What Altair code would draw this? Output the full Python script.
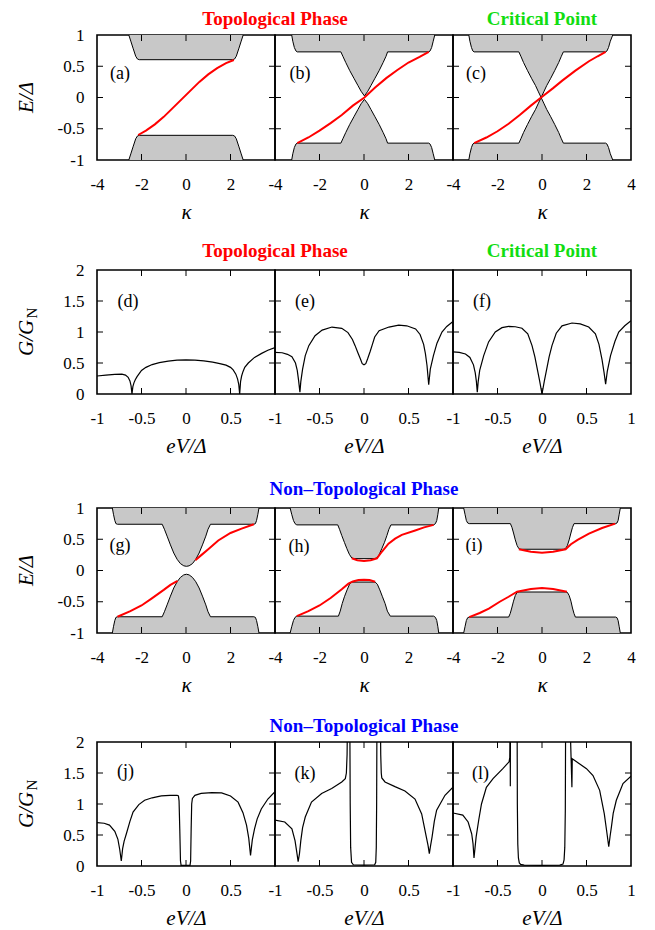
import altair as alt
import pandas as pd

# ---------------- band-structure panels: kappa vs E/Delta ----------------
# (a)
A_UP_K = [-2.57, -2.47, -2.38, -2.26, -2.18, -2.10, 2.10, 2.18, 2.26, 2.38, 2.47, 2.57]
A_UP_E = [1.0, 0.89, 0.79, 0.66, 0.615, 0.605, 0.605, 0.615, 0.66, 0.79, 0.89, 1.0]
A_LO_K = [-2.57, -2.47, -2.38, -2.26, -2.18, -2.10, 2.10, 2.18, 2.26, 2.38, 2.47, 2.57]
A_LO_E = [-1.0, -0.89, -0.79, -0.66, -0.615, -0.605, -0.605, -0.615, -0.66, -0.79, -0.89, -1.0]
A_RED_K = [-2.15, -1.8, -1.4, -1.0, -0.6, -0.2, 0.2, 0.6, 1.0, 1.4, 1.8, 2.15]
A_RED_E = [-0.60, -0.53, -0.43, -0.31, -0.17, -0.03, 0.11, 0.25, 0.37, 0.47, 0.55, 0.60]

# (b)
B_UP_K = [-3.25, -3.20, -3.13, -3.06, -3.00, -1.04, -0.95, -0.82, -0.64, -0.44, -0.27, -0.13, 0.02,
          0.17, 0.31, 0.48, 0.68, 0.86, 0.99, 1.06, 2.91, 2.97, 3.04, 3.11, 3.18]
B_UP_E = [1.0, 0.9, 0.8, 0.745, 0.73, 0.73, 0.66, 0.56, 0.43, 0.30, 0.19, 0.10, 0.025,
          0.10, 0.19, 0.30, 0.43, 0.56, 0.66, 0.73, 0.73, 0.745, 0.8, 0.9, 1.0]
B_LO_K = [-3.25, -3.20, -3.13, -3.06, -3.00, -1.04, -0.95, -0.82, -0.64, -0.44, -0.27, -0.13, 0.02,
          0.17, 0.31, 0.48, 0.68, 0.86, 0.99, 1.06, 2.91, 2.97, 3.04, 3.11, 3.18]
B_LO_E = [-1.0, -0.9, -0.8, -0.745, -0.73, -0.73, -0.66, -0.56, -0.43, -0.30, -0.19, -0.10, -0.03,
          -0.10, -0.19, -0.30, -0.43, -0.56, -0.66, -0.73, -0.73, -0.745, -0.8, -0.9, -1.0]
B_RED_K = [-3.0, -2.5, -2.0, -1.5, -1.0, -0.5, 0.02, 0.5, 1.0, 1.5, 2.0, 2.5, 2.91]
B_RED_E = [-0.73, -0.64, -0.53, -0.41, -0.28, -0.13, 0.0, 0.16, 0.31, 0.44, 0.56, 0.65, 0.73]

# (c)
C_UP_K = [-3.29, -3.24, -3.17, -3.11, -3.05, -1.04, -0.95, -0.83, -0.65, -0.46, -0.29, -0.16, -0.04,
          0.08, 0.21, 0.38, 0.57, 0.75, 0.87, 0.96, 2.86, 2.92, 2.99, 3.07, 3.18]
C_UP_E = [1.0, 0.9, 0.8, 0.745, 0.73, 0.73, 0.66, 0.56, 0.43, 0.30, 0.19, 0.09, 0.0,
          0.09, 0.19, 0.30, 0.43, 0.56, 0.66, 0.73, 0.73, 0.745, 0.8, 0.9, 1.0]
C_LO_K = [-3.29, -3.24, -3.17, -3.11, -3.05, -1.04, -0.95, -0.83, -0.65, -0.46, -0.29, -0.16, -0.04,
          0.08, 0.21, 0.38, 0.57, 0.75, 0.87, 0.96, 2.86, 2.92, 2.99, 3.07, 3.18]
C_LO_E = [-1.0, -0.9, -0.8, -0.745, -0.73, -0.73, -0.66, -0.56, -0.43, -0.30, -0.19, -0.09, 0.0,
          -0.09, -0.19, -0.30, -0.43, -0.56, -0.66, -0.73, -0.73, -0.745, -0.8, -0.9, -1.0]
C_RED_K = [-3.05, -2.5, -2.0, -1.5, -1.0, -0.5, -0.04, 0.5, 0.91, 1.5, 2.11, 2.5, 2.86]
C_RED_E = [-0.73, -0.64, -0.54, -0.42, -0.28, -0.13, 0.0, 0.15, 0.27, 0.43, 0.58, 0.66, 0.73]

# (g)
G_UP_K = [-3.31, -3.26, -3.20, -3.15, -3.08, -1.07, -0.97, -0.85, -0.70, -0.55, -0.40, -0.25, -0.10, 0.02,
          0.14, 0.29, 0.44, 0.59, 0.74, 0.89, 0.99, 1.10, 3.05, 3.12, 3.17, 3.23, 3.28]
G_UP_E = [1.0, 0.9, 0.8, 0.75, 0.74, 0.74, 0.66, 0.55, 0.41, 0.28, 0.18, 0.11, 0.075, 0.067,
          0.075, 0.11, 0.18, 0.28, 0.41, 0.55, 0.66, 0.74, 0.74, 0.75, 0.8, 0.9, 1.0]
G_LO_K = [-3.31, -3.26, -3.20, -3.15, -3.08, -1.07, -0.97, -0.85, -0.70, -0.55, -0.40, -0.25, -0.10, 0.02,
          0.14, 0.29, 0.44, 0.59, 0.74, 0.89, 0.99, 1.10, 3.05, 3.12, 3.17, 3.23, 3.28]
G_LO_E = [-1.0, -0.9, -0.8, -0.75, -0.74, -0.74, -0.66, -0.55, -0.41, -0.28, -0.18, -0.11, -0.07, -0.06,
          -0.07, -0.11, -0.18, -0.28, -0.41, -0.55, -0.66, -0.74, -0.74, -0.75, -0.8, -0.9, -1.0]
G_RED1_K = [-3.08, -2.5, -2.0, -1.55, -1.0, -0.7, -0.38]
G_RED1_E = [-0.74, -0.65, -0.56, -0.45, -0.31, -0.23, -0.165]
G_RED2_K = [0.42, 0.7, 1.0, 1.45, 2.0, 2.5, 3.05]
G_RED2_E = [0.165, 0.25, 0.34, 0.48, 0.60, 0.67, 0.74]

# (h)
H_UP_K = [-3.32, -3.25, -3.17, -3.10, -3.02, -1.18, -1.10, -1.00, -0.88, -0.77, -0.66, -0.55, -0.45,
          0.48, 0.58, 0.69, 0.80, 0.92, 1.03, 1.12, 1.21, 3.13, 3.21, 3.27, 3.32, 3.36]
H_UP_E = [1.0, 0.9, 0.8, 0.75, 0.73, 0.73, 0.66, 0.56, 0.45, 0.35, 0.26, 0.20, 0.19,
          0.19, 0.20, 0.26, 0.35, 0.45, 0.56, 0.66, 0.73, 0.73, 0.75, 0.8, 0.9, 1.0]
H_LO_K = [-3.32, -3.25, -3.17, -3.10, -3.02, -1.15, -1.07, -0.98, -0.88, -0.76, -0.65, -0.55,
          0.50, 0.60, 0.71, 0.83, 0.95, 1.05, 1.18, 3.13, 3.21, 3.27, 3.32, 3.36]
H_LO_E = [-1.0, -0.9, -0.8, -0.75, -0.73, -0.73, -0.65, -0.53, -0.42, -0.31, -0.22, -0.185,
          -0.185, -0.22, -0.31, -0.42, -0.53, -0.65, -0.73, -0.73, -0.75, -0.8, -0.9, -1.0]
H_RED1_K = [-3.02, -2.5, -2.0, -1.5, -1.0, -0.7, -0.5, -0.25, 0.0, 0.25, 0.5]
H_RED1_E = [-0.73, -0.65, -0.56, -0.44, -0.30, -0.21, -0.175, -0.152, -0.147, -0.152, -0.18]
H_RED2_K = [-0.55, -0.3, 0.0, 0.3, 0.58, 0.8, 1.1, 1.4, 1.7, 2.3, 2.7, 3.13]
H_RED2_E = [0.195, 0.165, 0.152, 0.165, 0.195, 0.30, 0.43, 0.51, 0.57, 0.64, 0.69, 0.73]

# (i)
I_UP_K = [-3.52, -3.46, -3.40, -3.34, -3.27, -1.42, -1.35, -1.28, -1.20, -1.12, -1.04, -0.95,
          0.97, 1.06, 1.14, 1.22, 1.30, 1.37, 1.44, 3.31, 3.37, 3.42, 3.47, 3.52]
I_UP_E = [1.0, 0.9, 0.8, 0.76, 0.75, 0.75, 0.69, 0.60, 0.49, 0.40, 0.35, 0.34,
          0.34, 0.35, 0.40, 0.49, 0.60, 0.69, 0.75, 0.75, 0.76, 0.8, 0.9, 1.0]
I_LO_K = [-3.52, -3.46, -3.40, -3.34, -3.27, -1.50, -1.43, -1.36, -1.28, -1.20, -1.12, -1.03,
          1.05, 1.14, 1.22, 1.30, 1.37, 1.44, 1.50, 3.31, 3.37, 3.42, 3.47, 3.52]
I_LO_E = [-1.0, -0.9, -0.8, -0.755, -0.745, -0.745, -0.69, -0.60, -0.49, -0.40, -0.35, -0.344,
          -0.344, -0.35, -0.40, -0.49, -0.60, -0.69, -0.745, -0.745, -0.755, -0.8, -0.9, -1.0]
I_RED1_K = [-3.27, -2.8, -2.39, -1.9, -1.5, -1.12, -0.5, 0.0, 0.5, 1.12]
I_RED1_E = [-0.745, -0.68, -0.61, -0.50, -0.42, -0.34, -0.295, -0.28, -0.295, -0.34]
I_RED2_K = [-1.04, -0.5, 0.0, 0.5, 1.06, 1.3, 1.6, 2.11, 2.7, 3.29]
I_RED2_E = [0.34, 0.30, 0.285, 0.30, 0.34, 0.42, 0.49, 0.59, 0.68, 0.75]

# ---------------- conductance panels: eV/Delta vs G/G_N ----------------
D_V = [-1.0, -0.9, -0.8, -0.72, -0.68, -0.65, -0.63, -0.617, -0.607, -0.597, -0.585, -0.57, -0.55, -0.5,
       -0.45, -0.38, -0.3, -0.2, -0.1, 0.0, 0.1, 0.2, 0.3, 0.38, 0.45, 0.5, 0.53, 0.56, 0.58, 0.593,
       0.603, 0.613, 0.625, 0.64, 0.66, 0.7, 0.77, 0.85, 0.92, 1.0]
D_G = [0.29, 0.305, 0.318, 0.32, 0.305, 0.27, 0.21, 0.13, 0.0, 0.12, 0.18, 0.23, 0.28, 0.38,
       0.43, 0.475, 0.505, 0.53, 0.545, 0.55, 0.545, 0.535, 0.515, 0.49, 0.465, 0.43, 0.39, 0.32, 0.24, 0.15,
       0.0, 0.2, 0.29, 0.36, 0.43, 0.5, 0.59, 0.655, 0.705, 0.75]

E_V = [-1.0, -0.92, -0.86, -0.81, -0.77, -0.75, -0.735, -0.72, -0.71, -0.69, -0.66, -0.62, -0.55, -0.47,
       -0.36, -0.25, -0.18, -0.13, -0.1, -0.07, -0.04, -0.02, 0.0, 0.02, 0.04, 0.07, 0.09, 0.12, 0.17, 0.28,
       0.39, 0.48, 0.58, 0.63, 0.67, 0.69, 0.708, 0.727, 0.745, 0.78, 0.82, 0.876, 0.93, 1.0]
E_G = [0.67, 0.665, 0.64, 0.6, 0.5, 0.38, 0.22, 0.03, 0.2, 0.4, 0.62, 0.78, 0.94, 1.03,
       1.08, 1.06, 0.99, 0.88, 0.78, 0.67, 0.565, 0.49, 0.47, 0.49, 0.565, 0.69, 0.78, 0.92, 1.02, 1.08,
       1.11, 1.1, 1.05, 0.96, 0.8, 0.65, 0.46, 0.15, 0.4, 0.62, 0.82, 1.0, 1.09, 1.17]

F_V = [-1.0, -0.93, -0.86, -0.81, -0.77, -0.75, -0.737, -0.727, -0.717, -0.7, -0.655, -0.6, -0.525, -0.45,
       -0.374, -0.3, -0.225, -0.16, -0.112, -0.08, -0.05, -0.025, 0.0, 0.025, 0.05, 0.08, 0.112, 0.16, 0.225,
       0.337, 0.43, 0.525, 0.6, 0.64, 0.675, 0.697, 0.715, 0.733, 0.77, 0.82, 0.862, 0.93, 1.0]
F_G = [0.68, 0.67, 0.645, 0.59, 0.47, 0.34, 0.2, 0.03, 0.2, 0.38, 0.62, 0.84, 1.0, 1.07,
       1.09, 1.085, 1.06, 0.97, 0.78, 0.6, 0.38, 0.2, 0.0, 0.2, 0.38, 0.6, 0.78, 0.98, 1.1,
       1.145, 1.13, 1.08, 0.97, 0.8, 0.55, 0.35, 0.16, 0.36, 0.62, 0.85, 1.0, 1.1, 1.18]

J_V = [-1.0, -0.92, -0.86, -0.8, -0.765, -0.745, -0.727, -0.712, -0.695, -0.67, -0.63, -0.595, -0.53, -0.465,
       -0.38, -0.278, -0.18, -0.1, -0.085, -0.078, -0.07, -0.062, -0.055, 0.0, 0.045, 0.052, 0.058, 0.064,
       0.072, 0.1, 0.17, 0.29, 0.4, 0.5, 0.585, 0.64, 0.68, 0.705, 0.725, 0.745, 0.77, 0.8, 0.846, 0.92, 1.0]
J_G = [0.70, 0.69, 0.66, 0.56, 0.43, 0.27, 0.08, 0.28, 0.4, 0.52, 0.72, 0.87, 0.99, 1.06,
       1.1, 1.13, 1.14, 1.14, 1.13, 1.05, 0.6, 0.08, 0.01, 0.01, 0.01, 0.08, 0.6, 1.0,
       1.09, 1.14, 1.17, 1.185, 1.18, 1.13, 1.03, 0.86, 0.66, 0.45, 0.17, 0.42, 0.6, 0.76, 0.92, 1.08, 1.2]

K_V = [-1.0, -0.89, -0.81, -0.775, -0.755, -0.74, -0.725, -0.71, -0.69, -0.66, -0.59, -0.476, -0.363, -0.25,
       -0.21, -0.198, -0.19, -0.184, -0.16, -0.155, -0.15, -0.14, -0.12, 0.0, 0.12, 0.132, 0.138, 0.142,
       0.146, 0.183, 0.188, 0.194, 0.2, 0.236, 0.348, 0.46, 0.573, 0.648, 0.70, 0.72, 0.734, 0.748, 0.765,
       0.79, 0.816, 0.91, 1.0]
K_G = [0.74, 0.71, 0.6, 0.41, 0.22, 0.07, 0.2, 0.41, 0.62, 0.79, 1.03, 1.17, 1.25, 1.355,
       1.41, 1.5, 1.8, 2.6, 2.6, 1.0, 0.3, 0.06, 0.02, 0.015, 0.02, 0.06, 0.3, 1.0,
       2.6, 2.6, 1.8, 1.5, 1.42, 1.355, 1.28, 1.21, 1.08, 0.84, 0.47, 0.33, 0.2, 0.33, 0.47,
       0.72, 0.9, 1.14, 1.27]

L_V = [-1.0, -0.89, -0.83, -0.79, -0.775, -0.764, -0.752, -0.74, -0.71, -0.68, -0.625, -0.55, -0.44, -0.37,
       -0.362, -0.358, -0.356, -0.354, -0.28, -0.277, -0.272, -0.265, -0.255, -0.24, -0.2, 0.0, 0.2, 0.236,
       0.248, 0.256, 0.262, 0.266, 0.31, 0.336, 0.34, 0.348, 0.42, 0.5, 0.573, 0.648, 0.7, 0.725, 0.75,
       0.765, 0.78, 0.8, 0.835, 0.91, 1.0]
L_G = [0.855, 0.82, 0.71, 0.52, 0.36, 0.13, 0.3, 0.47, 0.75, 1.0, 1.27, 1.41, 1.57, 1.68,
       1.75, 2.6, 1.285, 2.6, 2.6, 1.0, 0.35, 0.13, 0.05, 0.025, 0.015, 0.01, 0.015, 0.03,
       0.1, 0.3, 0.9, 2.6, 2.6, 1.27, 1.73, 1.72, 1.65, 1.57, 1.46, 1.22, 0.84, 0.58, 0.31,
       0.48, 0.63, 0.85, 1.06, 1.33, 1.45]

# ---------------- axes / ticks / texts ----------------
K_LABELS_AB = [-4, -2, 0, 2]
K_LABELS_C = [-4, -2, 0, 2, 4]
K_TICKS = [-2, 0, 2]
E_LABELS = [-1, -0.5, 0, 0.5, 1]
E_TICKS = [-0.5, 0, 0.5]
V_LABELS_AB = [-1, -0.5, 0, 0.5]
V_LABELS_C = [-1, -0.5, 0, 0.5, 1]
V_TICKS = [-0.5, 0, 0.5]
G_LABELS = [0, 0.5, 1, 1.5, 2]
G_TICKS = [0.5, 1, 1.5]

TITLE_TOPO = "Topological Phase"
TITLE_CRIT = "Critical Point"
TITLE_NONTOPO = "Non\u2013Topological Phase"

FONT = "'Liberation Serif', 'DejaVu Serif', serif"
W = 178
GRAY = "#c8c8c8"
RED = "#ff0000"
GREEN = "#11dd11"
BLUE = "#0000ff"
TITLE_SIZE = 19


def one(text):
    return pd.DataFrame({"t": [text]})


def text_layer(text, x, y, size, color="black", weight="normal", style="normal",
               angle=0, align="center", baseline="middle"):
    return alt.Chart(one(text)).mark_text(
        font=FONT, fontSize=size, color=color, fontWeight=weight, fontStyle=style,
        angle=angle, align=align, baseline=baseline
    ).encode(text="t:N", x=alt.value(x), y=alt.value(y))


def spacer(top, bottom):
    return alt.Chart(one("")).mark_rule(opacity=0).encode(
        x=alt.value(0), y=alt.value(top), y2=alt.value(bottom))


def panel(H, xdom, ydom, xvals, xtitle, tpad, yvals, show_y, xticks, yticks,
          areas, edges, curves, label, lpos, extras):
    xs = alt.Scale(domain=xdom, nice=False, zero=False)
    ys = alt.Scale(domain=ydom, nice=False, zero=False)
    xa = alt.Axis(values=xvals, labelExpr="'' + datum.value", title=xtitle, domain=False,
                  ticks=False, tickSize=0, grid=False, labelFont=FONT, labelFontSize=17,
                  labelColor="black", labelPadding=16, labelFlush=False, labelOverlap=False,
                  titleFont=FONT, titleFontSize=21, titleFontStyle="italic",
                  titleFontWeight="normal", titleColor="black", titlePadding=tpad)
    if show_y:
        ya = alt.Axis(values=yvals, labelExpr="'' + datum.value", title=None, domain=False,
                      ticks=False, tickSize=0, grid=False, labelFont=FONT, labelFontSize=17,
                      labelColor="black", labelPadding=13, labelFlush=False, labelOverlap=False)
    else:
        ya = None

    def X(f):
        return alt.X(f, type="quantitative", scale=xs, axis=xa)

    def Y(f):
        return alt.Y(f, type="quantitative", scale=ys, axis=ya)

    layers = []
    for k, e, b in areas:
        df = pd.DataFrame({"x": k, "y": e, "b": [b] * len(k)})
        layers.append(alt.Chart(df).mark_area(color=GRAY, opacity=1).encode(
            x=X("x"), y=Y("y"), y2="b"))
    for k, e in edges:
        df = pd.DataFrame({"x": k, "y": e})
        layers.append(alt.Chart(df).mark_line(color="black", strokeWidth=1).encode(
            x=X("x"), y=Y("y")))
    for k, e, color, sw in curves:
        df = pd.DataFrame({"x": k, "y": e})
        layers.append(alt.Chart(df).mark_line(color=color, strokeWidth=sw, clip=True).encode(
            x=X("x"), y=Y("y")))
    tx = pd.DataFrame({"v": xticks})
    ty = pd.DataFrame({"v": yticks})
    TL = 6
    layers.append(alt.Chart(tx).mark_rule(color="black", strokeWidth=1).encode(
        x=X("v"), y=alt.value(0), y2=alt.value(TL)))
    layers.append(alt.Chart(tx).mark_rule(color="black", strokeWidth=1).encode(
        x=X("v"), y=alt.value(H - TL), y2=alt.value(H)))
    layers.append(alt.Chart(ty).mark_rule(color="black", strokeWidth=1).encode(
        y=Y("v"), x=alt.value(0), x2=alt.value(TL)))
    layers.append(alt.Chart(ty).mark_rule(color="black", strokeWidth=1).encode(
        y=Y("v"), x=alt.value(W - TL), x2=alt.value(W)))
    layers.append(text_layer(label, lpos[0], lpos[1], 18))
    layers.extend(extras)
    return alt.layer(*layers).properties(width=W, height=H)


def band(H, upk, upe, lok, loe, reds, label, lpos, xvals, show_y, extras):
    return panel(H, [-4, 4], [-1, 1], xvals, "\u03ba", 9, E_LABELS, show_y, K_TICKS, E_TICKS,
                 [(upk, upe, 1.0), (lok, loe, -1.0)], [(upk, upe), (lok, loe)],
                 [(k, e, RED, 2) for k, e in reds], label, lpos, extras)


def cond(H, v, g, label, lpos, xvals, show_y, extras):
    return panel(H, [-1, 1], [0, 2], xvals, "eV/\u0394", 9, G_LABELS, show_y, V_TICKS, G_TICKS,
                 [], [], [(v, g, "black", 1.2)], label, lpos, extras)


HB = 125
HC = 124


def e_title(H):
    return [text_layer("E/\u0394", -70, H / 2, 21, style="italic", angle=270)]


def g_title(H):
    return [text_layer("G/G", -70, H / 2 + 6, 21, style="italic", angle=270),
            text_layer("N", -65, H / 2 - 19, 15, angle=270)]


def row_title(text, x, y, color):
    return [text_layer(text, x, y, TITLE_SIZE, color=color, weight="bold", baseline="alphabetic")]


# Row 1
pa = band(HB, A_UP_K, A_UP_E, A_LO_K, A_LO_E, [(A_RED_K, A_RED_E)], "(a)", (23, 39),
          K_LABELS_AB, True, e_title(HB) + [spacer(-26, HB + 68)])
pb = band(HB, B_UP_K, B_UP_E, B_LO_K, B_LO_E, [(B_RED_K, B_RED_E)], "(b)", (25, 39),
          K_LABELS_AB, False, row_title(TITLE_TOPO, 0, -10.5, RED))
pc = band(HB, C_UP_K, C_UP_E, C_LO_K, C_LO_E, [(C_RED_K, C_RED_E)], "(c)", (23, 39),
          K_LABELS_C, False, row_title(TITLE_CRIT, 89, -10.5, GREEN))
row1 = alt.hconcat(pa, pb, pc, spacing=0, bounds="flush")

# Row 2
pd_ = cond(HC, D_V, D_G, "(d)", (31, 32), V_LABELS_AB, True, g_title(HC) + [spacer(-40, HC + 71.3)])
pe = cond(HC, E_V, E_G, "(e)", (30, 32), V_LABELS_AB, False, row_title(TITLE_TOPO, 0, -13, RED))
pf = cond(HC, F_V, F_G, "(f)", (29, 32), V_LABELS_C, False, row_title(TITLE_CRIT, 89, -13, GREEN))
row2 = alt.hconcat(pd_, pe, pf, spacing=0, bounds="flush")

# Row 3
pg = band(HB, G_UP_K, G_UP_E, G_LO_K, G_LO_E, [(G_RED1_K, G_RED1_E), (G_RED2_K, G_RED2_E)],
          "(g)", (23, 38), K_LABELS_AB, True, e_title(HB) + [spacer(-40, HB + 67)])
ph = band(HB, H_UP_K, H_UP_E, H_LO_K, H_LO_E, [(H_RED1_K, H_RED1_E), (H_RED2_K, H_RED2_E)],
          "(h)", (24, 39), K_LABELS_AB, False, row_title(TITLE_NONTOPO, 89, -13, BLUE))
pi = band(HB, I_UP_K, I_UP_E, I_LO_K, I_LO_E, [(I_RED1_K, I_RED1_E), (I_RED2_K, I_RED2_E)],
          "(i)", (21, 38), K_LABELS_C, False, [])
row3 = alt.hconcat(pg, ph, pi, spacing=0, bounds="flush")

# Row 4
pj = cond(HC, J_V, J_G, "(j)", (28.5, 30), V_LABELS_AB, True, g_title(HC) + [spacer(-40, HC + 56)])
pk = cond(HC, K_V, K_G, "(k)", (30, 32), V_LABELS_AB, False, row_title(TITLE_NONTOPO, 89, -10, BLUE))
pl = cond(HC, L_V, L_G, "(l)", (27.5, 32), V_LABELS_C, False, [])
row4 = alt.hconcat(pj, pk, pl, spacing=0, bounds="flush")

chart = alt.vconcat(row1, row2, row3, row4, spacing=0).properties(
    padding={"left": 7, "top": 0, "right": 5, "bottom": 0},
    background="white"
).configure_view(stroke="black", strokeWidth=1.6)

chart.save("out.html", embed_options={"renderer": "svg", "actions": False})
